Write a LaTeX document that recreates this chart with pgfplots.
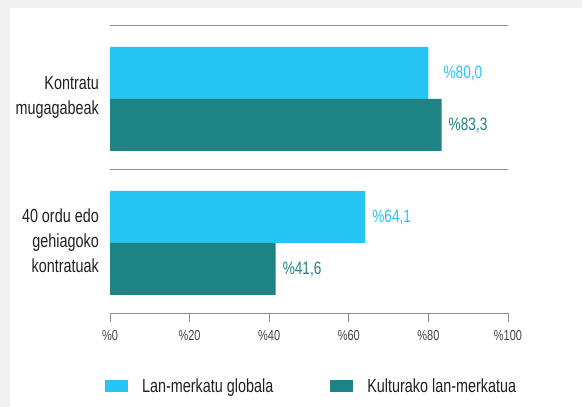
\documentclass[border=0pt]{standalone}
\usepackage{fontspec}
\setmainfont{Liberation Sans}[FakeStretch=0.76]
\usepackage{pgfplots}
\pgfplotsset{compat=1.18}
\definecolor{bgray}{HTML}{F0F0F0}
\definecolor{lblue}{HTML}{27C5F3}
\definecolor{teal2}{HTML}{1E8385}
\definecolor{axgray}{HTML}{8C8C8C}
\definecolor{txt}{HTML}{231F20}
\begin{document}
\begin{tikzpicture}
\fill[bgray] (0,0) rectangle (582bp,407bp);
\fill[white] (10bp,0) rectangle (582bp,399bp);
\begin{axis}[
  /pgf/number format/assume math mode=true,
  at={(110bp,94bp)}, anchor=south west,
  scale only axis, width=398bp, height=288bp,
  xmin=0, xmax=100, ymin=0, ymax=2, y dir=reverse,
  xbar, bar width=52bp, bar shift=0pt,
  axis x line*=bottom, axis y line*=left,
  y axis line style={draw=none},
  x axis line style={axgray, line width=0.9bp},
  xtick={0,20,40,60,80,100},
  xticklabel={\%\pgfmathprintnumber{\tick}},
  tick align=outside,
  x tick style={axgray, line width=0.9bp},
  major tick length=9bp,
  x tick label style={font=\fontsize{14.5}{16}\selectfont, text=txt!85, inner sep=0pt, yshift=-8bp},
  ytick={0.5,1.5},
  y tick style={draw=none},
  yticklabels={{Kontratu\\mugagabeak},{40 ordu edo\\gehiagoko\\kontratuak}},
  y tick label style={font=\fontsize{19}{25}\selectfont, text=txt, align=right, inner sep=0pt, xshift=-2bp},
  extra y ticks={0,1},
  extra y tick labels={,},
  extra y tick style={grid=major, major grid style={axgray, line width=0.9bp}},
  legend columns=2,
  legend style={at={(-0.0126,-0.2535)}, anchor=west, draw=none, fill=none, inner sep=0pt,
    font=\fontsize{19}{22}\selectfont, text=txt,
    nodes={inner sep=0pt},
    /tikz/every odd column/.style={column sep=14bp},
    /tikz/every even column/.style={column sep=57bp}},
  legend cell align=left,
]
\addplot[fill=lblue, draw=none, point meta=explicit symbolic,
  nodes near coords,
  every node near coord/.append style={font=\fontsize{18}{20}\selectfont, inner sep=0pt, anchor=west, xshift=7bp, text=lblue},
  legend image code/.code={\fill[lblue] (0bp,-6bp) rectangle (23bp,6bp);}]
  coordinates {(80.0,0.3333) [\hspace*{8bp}\%80,0] (64.1,1.3333) [\%64,1]};
\addplot[fill=teal2, draw=none, point meta=x,
  nodes near coords={\%\pgfmathprintnumber[fixed,fixed zerofill,precision=1,use comma]{\pgfplotspointmeta}},
  nodes near coords align=horizontal,
  every node near coord/.append style={font=\fontsize{18}{20}\selectfont, inner sep=0pt, xshift=7bp, text=teal2},
  legend image code/.code={\fill[teal2] (0bp,-6bp) rectangle (23bp,6bp);}]
  coordinates {(83.3,0.6944) (41.6,1.6944)};
\legend{Lan-merkatu globala, Kulturako lan-merkatua}
\end{axis}
\end{tikzpicture}
\end{document}
